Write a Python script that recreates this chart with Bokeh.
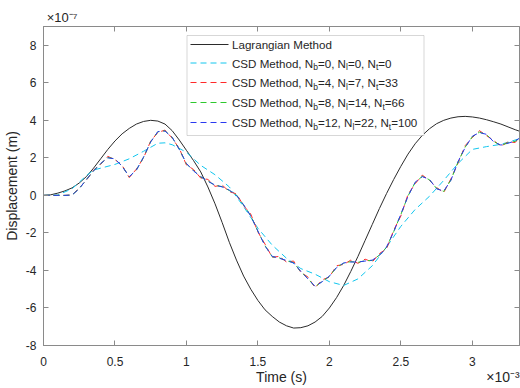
from bokeh.plotting import figure
from bokeh.models import Range1d, LinearAxis, FixedTicker, Label, BoxAnnotation, Arrow
from bokeh.embed import file_html
from bokeh.resources import INLINE

FONT = "Liberation Sans"
TXT = "#262626"
AX = "#8a8a8a"

# ---------------- data (time in 1e-3 s, displacement in 1e-7 m) ----------------
t_lag = [0.00, 0.05, 0.10, 0.15, 0.20, 0.25, 0.30, 0.35, 0.40, 0.45, 0.50, 0.55, 0.60, 0.65,
         0.70, 0.75, 0.80, 0.85, 0.90, 0.95, 1.00, 1.05, 1.10, 1.15, 1.20, 1.25, 1.30, 1.35,
         1.40, 1.45, 1.50, 1.55, 1.60, 1.65, 1.70, 1.75, 1.80, 1.85, 1.90, 1.95, 2.00, 2.05,
         2.10, 2.15, 2.20, 2.25, 2.30, 2.35, 2.40, 2.45, 2.50, 2.55, 2.60, 2.65, 2.70, 2.75,
         2.80, 2.85, 2.90, 2.95, 3.00, 3.05, 3.10, 3.15, 3.20, 3.25, 3.30, 3.33]
lagrangian = [0.00, 0.03, 0.12, 0.24, 0.40, 0.66, 1.00, 1.45, 1.95, 2.45, 2.90, 3.28, 3.57, 3.80,
              3.94, 4.00, 3.96, 3.80, 3.45, 2.95, 2.40, 1.85, 1.25, 0.45, -0.45, -1.45, -2.50, -3.45,
              -4.30, -5.00, -5.60, -6.10, -6.45, -6.75, -6.95, -7.07, -7.05, -6.95, -6.75, -6.45, -6.00, -5.45,
              -4.80, -4.05, -3.25, -2.40, -1.55, -0.70, 0.10, 0.85, 1.55, 2.20, 2.75, 3.20, 3.55, 3.82,
              4.00, 4.12, 4.19, 4.21, 4.18, 4.12, 4.03, 3.92, 3.80, 3.65, 3.50, 3.42]

t_n0 = [0.0, 0.1, 0.2, 0.3, 0.35, 0.4, 0.5, 0.6, 0.7, 0.8, 0.85, 0.9, 1.0, 1.1, 1.2, 1.3, 1.4,
        1.5, 1.6, 1.7, 1.8, 1.9, 2.0, 2.1, 2.2, 2.3, 2.4, 2.5, 2.6, 2.7, 2.8, 2.9, 3.0, 3.1,
        3.2, 3.33]
csd_n0 = [0.00, 0.02, 0.35, 1.05, 1.35, 1.45, 1.65, 1.95, 2.35, 2.78, 2.80, 2.70, 2.30, 1.60,
          1.10, 0.45, -0.60, -1.75, -2.65, -3.35, -3.90, -4.20, -4.60, -4.80, -4.45, -3.75, -2.75,
          -1.65, -0.75, -0.05, 0.80, 1.70, 2.45, 2.60, 2.72, 3.02]

t_csd = [0.00, 0.05, 0.10, 0.15, 0.20, 0.25, 0.30, 0.35, 0.40, 0.45, 0.50, 0.55, 0.60, 0.65,
         0.70, 0.75, 0.80, 0.85, 0.90, 0.95, 1.00, 1.05, 1.10, 1.15, 1.20, 1.25, 1.30, 1.35,
         1.40, 1.45, 1.50, 1.55, 1.60, 1.65, 1.70, 1.75, 1.80, 1.85, 1.90, 1.95, 2.00, 2.05,
         2.10, 2.15, 2.20, 2.25, 2.30, 2.35, 2.40, 2.45, 2.50, 2.55, 2.60, 2.65, 2.70, 2.75,
         2.80, 2.85, 2.90, 2.95, 3.00, 3.05, 3.10, 3.15, 3.20, 3.25, 3.30, 3.33]
csd_n4 = [0.00, 0.00, 0.00, 0.00, 0.02, 0.40, 0.80, 1.35, 1.65, 2.08, 1.90, 1.60, 0.95, 1.40,
          2.00, 2.90, 3.35, 3.48, 3.05, 2.50, 1.62, 1.38, 0.92, 0.85, 0.48, 0.55, 0.20, 0.08,
          -0.55, -1.00, -1.95, -2.60, -3.30, -3.25, -3.55, -3.50, -4.10, -4.35, -4.92, -4.50, -4.35, -3.75,
          -3.68, -3.45, -3.62, -3.40, -3.55, -3.10, -2.85, -1.85, -1.10, 0.05, 0.62, 1.08, 0.80, 0.42,
          0.15, 0.88, 1.72, 2.65, 3.08, 3.45, 3.18, 2.92, 2.62, 2.85, 2.82, 3.08]
csd_n8 = [0.00, 0.00, 0.00, 0.00, 0.02, 0.36, 0.84, 1.31, 1.69, 2.02, 1.94, 1.56, 0.99, 1.36,
          2.03, 2.86, 3.39, 3.44, 3.09, 2.46, 1.68, 1.32, 0.98, 0.77, 0.53, 0.47, 0.26, 0.02,
          -0.52, -1.08, -1.92, -2.68, -3.27, -3.33, -3.49, -3.58, -4.07, -4.43, -4.87, -4.58, -4.32, -3.83,
          -3.62, -3.53, -3.57, -3.48, -3.47, -3.18, -2.77, -1.93, -1.02, -0.03, 0.68, 1.02, 0.83, 0.37,
          0.21, 0.82, 1.78, 2.57, 3.13, 3.37, 3.23, 2.87, 2.66, 2.80, 2.88, 3.05]
csd_n12 = [0.00, 0.00, 0.00, 0.00, 0.02, 0.35, 0.85, 1.30, 1.70, 2.00, 1.95, 1.55, 1.00, 1.35,
           2.04, 2.85, 3.40, 3.43, 3.10, 2.45, 1.70, 1.30, 1.00, 0.75, 0.55, 0.45, 0.28, 0.00,
           -0.50, -1.10, -1.90, -2.70, -3.25, -3.35, -3.47, -3.60, -4.05, -4.45, -4.85, -4.60, -4.30, -3.85,
           -3.60, -3.55, -3.55, -3.50, -3.45, -3.20, -2.75, -1.95, -1.00, -0.05, 0.70, 1.00, 0.85, 0.35,
           0.23, 0.80, 1.80, 2.55, 3.15, 3.35, 3.25, 2.85, 2.68, 2.78, 2.90, 3.05]

Nb = [0, 4, 8, 12]
Nl = [0, 7, 14, 22]
Nt = [0, 33, 66, 100]
series_colors = ["#12c6ee", "#ff2a2a", "#2ec82e", "#2a3af0"]

x_ticks = [0, 0.5, 1, 1.5, 2, 2.5, 3]
x_tick_labels = ["0", "0.5", "1", "1.5", "2", "2.5", "3"]
y_ticks = [-8, -6, -4, -2, 0, 2, 4, 6, 8]
y_tick_labels = ["-8", "-6", "-4", "-2", "0", "2", "4", "6", "8"]
x_title = "Time (s)"
y_title = "Displacement (m)"
x_exponent = "\u00d710\u207b\u00b3"
y_exponent = "\u00d710\u207b\u2077"

# ---------------- figure ----------------
p = figure(width=520, height=388, min_border_left=43, min_border_right=1,
           min_border_top=26, min_border_bottom=43,
           x_range=Range1d(0, 3.33), y_range=Range1d(-8, 9),
           output_backend="svg", toolbar_location=None)
p.background_fill_color = "white"
p.border_fill_color = "white"
p.outline_line_color = AX
p.grid.visible = False


def style_axis(ax, ticks, labels, show_labels):
    ax.ticker = FixedTicker(ticks=ticks)
    ax.major_tick_in = 5
    ax.major_tick_out = 0
    ax.minor_tick_line_color = None
    ax.axis_line_color = AX
    ax.major_tick_line_color = AX
    ax.major_label_text_font = FONT
    if show_labels:
        ax.major_label_overrides = {t: s for t, s in zip(ticks, labels)}
        ax.major_label_text_font_size = "12px"
        ax.major_label_text_color = TXT
    else:
        ax.major_label_text_font_size = "1px"
        ax.major_label_text_color = None
        ax.major_label_standoff = 0


def text_axis(ticks, labels, size, standoff):
    """An axis with no line and no tick marks, only used to place texts outside the frame."""
    ax = LinearAxis()
    ax.ticker = FixedTicker(ticks=ticks)
    ax.major_label_overrides = {t: s for t, s in zip(ticks, labels)}
    ax.axis_line_color = None
    ax.major_tick_line_color = None
    ax.minor_tick_line_color = None
    ax.major_tick_in = 0
    ax.major_tick_out = 0
    ax.major_label_standoff = standoff
    ax.major_label_text_font = FONT
    ax.major_label_text_font_size = size
    ax.major_label_text_color = TXT
    return ax


xa = p.xaxis[0]
ya = p.yaxis[0]
style_axis(xa, x_ticks, x_tick_labels, True)
style_axis(ya, y_ticks, y_tick_labels, True)
xa.major_label_standoff = 11
ya.major_label_standoff = 7
ya.axis_label = y_title
ya.axis_label_text_font = FONT
ya.axis_label_text_font_size = "14px"
ya.axis_label_text_font_style = "normal"
ya.axis_label_text_color = TXT
ya.axis_label_standoff = 3

top_ax = LinearAxis()
right_ax = LinearAxis()
style_axis(top_ax, x_ticks, x_tick_labels, False)
style_axis(right_ax, y_ticks, y_tick_labels, False)
p.add_layout(top_ax, "above")
p.add_layout(right_ax, "right")

# texts outside the frame: x title and x exponent share a row below; y exponent above
p.add_layout(text_axis([1.665, 3.215], [x_title, x_exponent], "14px", 0), "below")
p.add_layout(text_axis([0.13], [y_exponent], "13px", 2), "above")

# ---------------- curves ----------------
p.line(t_lag, lagrangian, line_color="#2b2b2b", line_width=1)
p.line(t_n0, csd_n0, line_color=series_colors[0], line_width=1, line_dash="6 4")
p.line(t_csd, csd_n4, line_color=series_colors[1], line_width=1, line_dash="6 4")
p.line(t_csd, csd_n8, line_color=series_colors[2], line_width=1, line_dash="6 4")
p.line(t_csd, csd_n12, line_color=series_colors[3], line_width=1, line_dash="6 4")

# ---------------- legend (manual, for subscripts) ----------------
WID = {' ': 278, ',': 278, '=': 584, 'C': 722, 'S': 667, 'D': 722, 'M': 833, 'N': 722,
       'L': 556, 'e': 556, 't': 278, 'h': 556, 'o': 556, 'd': 556, 'a': 556, 'g': 556,
       'r': 333, 'n': 556, 'i': 222, 'b': 556, 'l': 222}
for d in "0123456789":
    WID[d] = 556


def tw(s, size):
    return sum(WID.get(c, 556) for c in s) * size / 1000.0


MAIN = 11.6
SUB = 8.5
p.add_layout(BoxAnnotation(left=143.5, right=380.5, top=310, bottom=210,
                           left_units="screen", right_units="screen",
                           top_units="screen", bottom_units="screen",
                           fill_color="white", fill_alpha=1.0,
                           line_color="#7a7a7a", line_width=1))

rows_y = [301, 282.5, 263, 243, 223]
line_x0, line_x1, text_x0 = 147, 185, 188.5

entries = [[("Lagrangian Method", False)]]
for nb, nl, nt in zip(Nb, Nl, Nt):
    entries.append([("CSD Method, N", False), ("b", True), (f"={nb}, N", False),
                    ("l", True), (f"={nl}, N", False), ("t", True), (f"={nt}", False)])

row_colors = ["#2b2b2b"] + series_colors
row_dash = ["solid"] + ["6 4"] * 4
for ry, pieces, col, dash in zip(rows_y, entries, row_colors, row_dash):
    p.add_layout(Arrow(end=None, x_start=line_x0, y_start=ry, x_end=line_x1, y_end=ry,
                       start_units="screen", end_units="screen",
                       line_color=col, line_width=1, line_dash=dash))
    x = text_x0
    for s, is_sub in pieces:
        size = SUB if is_sub else MAIN
        yy = ry - 4 if is_sub else ry
        p.add_layout(Label(x=x, y=yy, x_units="screen", y_units="screen", text=s,
                           text_font=FONT, text_font_size=f"{size}px", text_color=TXT,
                           text_baseline="middle", text_align="left"))
        x += tw(s, size)

open("out.html", "w").write(file_html(p, INLINE))
